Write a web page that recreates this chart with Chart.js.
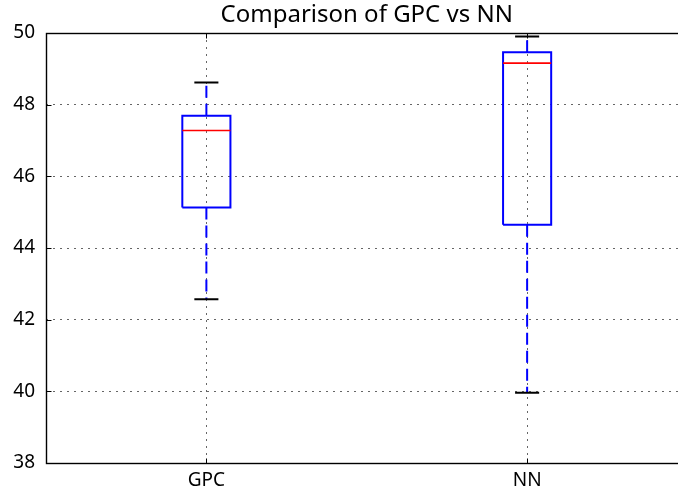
<!DOCTYPE html>
<html>
<head>
<meta charset="utf-8">
<script src="https://cdn.jsdelivr.net/npm/chart.js@4.4.1/dist/chart.umd.min.js"></script>
<style>
  html, body { margin: 0; padding: 0; background: #fff; overflow: hidden; }
  #wrap { width: 678px; height: 492px; overflow: hidden; }
</style>
</head>
<body>
<div id="wrap"><canvas id="chart" width="700" height="492"></canvas></div>
<script>
const categories = ['GPC', 'NN'];
const whiskerLow = [42.57, 39.96];
const quartile1 = [45.13, 44.65];
const medians = [47.28, 49.16];
const quartile3 = [47.69, 49.46];
const whiskerHigh = [48.62, 49.90];
const yTicks = [38, 40, 42, 44, 46, 48, 50];
const chartTitle = 'Comparison of GPC vs NN';

const BOX_HALF = 0.075;
const CAP_HALF = 0.0375;
const FONT = '"Noto Sans", "Open Sans", sans-serif';

// build one boxplot out of plain line datasets
const datasets = [];
categories.forEach((name, i) => {
  const pos = i + 1;
  datasets.push({
    label: name + ' low whisker',
    data: [{ x: pos, y: quartile1[i] }, { x: pos, y: whiskerLow[i] }],
    borderColor: '#0000ff', borderDash: [12, 6], order: 4
  });
  datasets.push({
    label: name + ' high whisker',
    data: [{ x: pos, y: quartile3[i] }, { x: pos, y: whiskerHigh[i] }],
    borderColor: '#0000ff', borderDash: [12, 6], order: 4
  });
  datasets.push({
    label: name + ' low cap',
    data: [{ x: pos - CAP_HALF, y: whiskerLow[i] }, { x: pos + CAP_HALF, y: whiskerLow[i] }],
    borderColor: '#000', order: 3
  });
  datasets.push({
    label: name + ' high cap',
    data: [{ x: pos - CAP_HALF, y: whiskerHigh[i] }, { x: pos + CAP_HALF, y: whiskerHigh[i] }],
    borderColor: '#000', order: 3
  });
  datasets.push({
    label: name + ' box',
    data: [
      { x: pos - BOX_HALF, y: quartile1[i] },
      { x: pos + BOX_HALF, y: quartile1[i] },
      { x: pos + BOX_HALF, y: quartile3[i] },
      { x: pos - BOX_HALF, y: quartile3[i] },
      { x: pos - BOX_HALF, y: quartile1[i] }
    ],
    borderColor: '#0000ff', order: 2
  });
  datasets.push({
    label: name + ' median',
    data: [{ x: pos - BOX_HALF, y: medians[i] }, { x: pos + BOX_HALF, y: medians[i] }],
    borderColor: '#ff0000', borderWidth: 1.6, order: 1
  });
});

// frame, inward ticks and the title (centred on the axes, not the canvas)
const framePlugin = {
  id: 'frame',
  afterDatasetsDraw(chart) {
    const { ctx, chartArea: a, scales } = chart;
    const L = Math.round(a.left) + 0.5, R = Math.round(a.right) + 0.5;
    const T = Math.round(a.top) + 0.5, B = Math.round(a.bottom) + 0.5;
    ctx.save();
    ctx.strokeStyle = '#000';
    ctx.lineWidth = 1;
    ctx.beginPath();
    scales.x.ticks.forEach(t => {
      const px = Math.round(scales.x.getPixelForValue(t.value)) + 0.5;
      ctx.moveTo(px, B); ctx.lineTo(px, B - 5);
      ctx.moveTo(px, T); ctx.lineTo(px, T + 5);
    });
    scales.y.ticks.forEach(t => {
      const py = Math.round(scales.y.getPixelForValue(t.value)) + 0.5;
      ctx.moveTo(L, py); ctx.lineTo(L + 5, py);
      ctx.moveTo(R, py); ctx.lineTo(R - 5, py);
    });
    ctx.stroke();
    ctx.lineWidth = 1.4;
    ctx.strokeRect(L, T, R - L, B - T);
    ctx.fillStyle = '#000';
    ctx.font = '24px ' + FONT;
    ctx.textAlign = 'center';
    ctx.textBaseline = 'alphabetic';
    ctx.fillText(chartTitle, (a.left + a.right) / 2, 21.5);
    ctx.restore();
  }
};

new Chart(document.getElementById('chart'), {
  type: 'line',
  data: { datasets },
  options: {
    responsive: false,
    animation: false,
    layout: { padding: { top: 33, right: 12.5, left: 0, bottom: 0 } },
    elements: {
      point: { radius: 0, hoverRadius: 0 },
      line: { borderWidth: 2, tension: 0, fill: false }
    },
    plugins: {
      legend: { display: false },
      tooltip: { enabled: false },
      title: { display: false }
    },
    scales: {
      x: {
        type: 'linear',
        min: 0.5,
        max: 2.5,
        afterBuildTicks: s => { s.ticks = categories.map((c, i) => ({ value: i + 1 })); },
        afterFit: s => { s.height = 29; },
        ticks: {
          callback: v => categories[v - 1],
          color: '#000',
          padding: 6,
          maxRotation: 0,
          font: { family: FONT, size: 19 }
        },
        grid: { color: 'rgba(0,0,0,0.6)', lineWidth: 1, drawTicks: false },
        border: { display: false, dash: [2, 5] }
      },
      y: {
        min: 38,
        max: 50,
        afterBuildTicks: s => { s.ticks = yTicks.map(v => ({ value: v })); },
        afterFit: s => { s.width = 46; },
        ticks: {
          color: '#000',
          padding: 11,
          font: { family: FONT, size: 19 }
        },
        grid: { color: 'rgba(0,0,0,0.6)', lineWidth: 1, drawTicks: false },
        border: { display: false, dash: [2, 5] }
      }
    }
  },
  plugins: [framePlugin]
});
</script>
</body>
</html>
